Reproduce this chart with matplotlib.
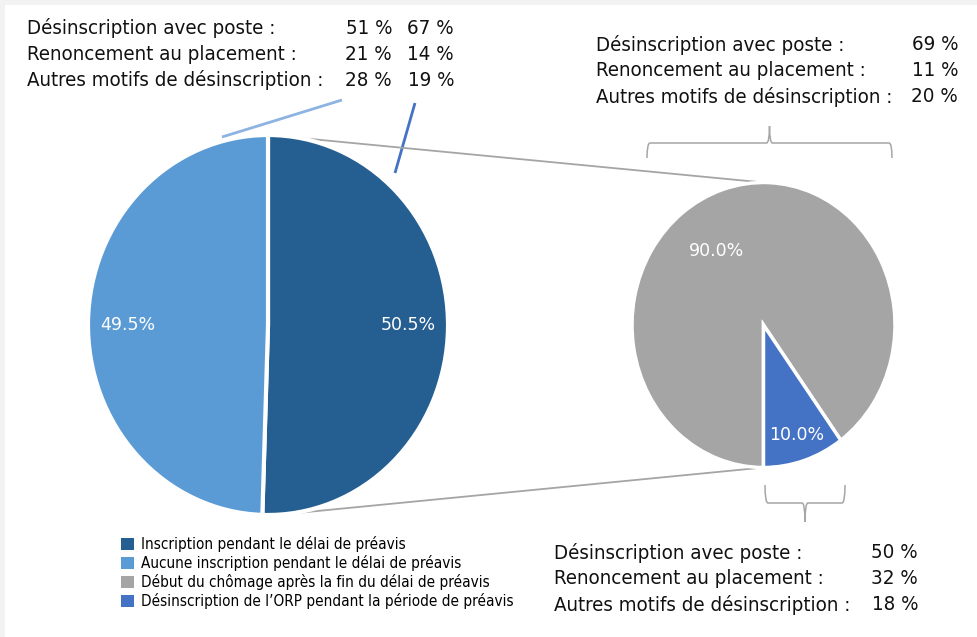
import matplotlib
matplotlib.use("Agg")
import matplotlib.pyplot as plt
from matplotlib.patches import ConnectionPatch, Rectangle
from matplotlib.path import Path
from matplotlib.patches import PathPatch
import numpy as np

plt.rcParams['font.family'] = ['DejaVu Sans']

# ---- data ----
main_labels = ["Inscription pendant le délai de préavis",
               "Aucune inscription pendant le délai de préavis"]
main_values = [50.5, 49.5]
sub_labels = ["Début du chômage après la fin du délai de préavis",
              "Désinscription de l\u2019ORP pendant la période de préavis"]
sub_values = [90.0, 10.0]

reason_labels = ["Désinscription avec poste :",
                 "Renoncement au placement :",
                 "Autres motifs de désinscription :"]
reasons_no_reg = [51, 21, 28]      # aucune inscription
reasons_reg = [67, 14, 19]         # inscription pendant le délai
reasons_after = [69, 11, 20]       # début du chômage après la fin
reasons_orp = [50, 32, 18]         # désinscription de l'ORP

main_colors = ["#255e91", "#5b9bd5"]
sub_colors = ["#a5a5a5", "#4472c4"]

W, H = 978, 637
fig = plt.figure(figsize=(W / 100, H / 100), dpi=100, facecolor="white")

# overlay axes in pixel coordinates (y down)
ov = fig.add_axes([0, 0, 1, 1], zorder=0)
ov.set_xlim(0, W)
ov.set_ylim(H, 0)
ov.axis("off")
ov.add_patch(Rectangle((0, 0), W, 5, color="#f2f2f2", lw=0))
ov.add_patch(Rectangle((0, 0), 5, H, color="#f2f2f2", lw=0))


def pie_axes(cx, cy, rx, ry, m=1.1):
    ax = fig.add_axes([(cx - rx * m) / W, (H - cy - ry * m) / H,
                       2 * rx * m / W, 2 * ry * m / H], zorder=2)
    return ax


# left pie
axL = pie_axes(268, 325, 180, 190)
wL, tL = axL.pie(main_values, colors=main_colors, startangle=90,
                 counterclock=False, labeldistance=None,
                 wedgeprops=dict(edgecolor="white", linewidth=3))
for w, v in zip(wL, main_values):
    ang = np.deg2rad((w.theta1 + w.theta2) / 2)
    axL.text(0.78 * np.cos(ang), 0.0, f"{v:.1f}%", color="white",
             fontsize=12.5, ha="center", va="center")
axL.set_aspect("auto")
axL.set_xlim(-1.1, 1.1)
axL.set_ylim(-1.1, 1.1)

# right pie
axR = pie_axes(763.5, 325, 131.5, 142.5)
wR, tR = axR.pie(sub_values, colors=sub_colors, startangle=-54,
                 counterclock=True, labeldistance=None,
                 wedgeprops=dict(edgecolor="white", linewidth=2.5))
axR.set_aspect("auto")
axR.set_xlim(-1.1, 1.1)
axR.set_ylim(-1.1, 1.1)
axR.text(-0.36, 0.52, f"{sub_values[0]:.1f}%", color="white", fontsize=12.5,
         ha="center", va="center")
axR.text(0.25, -0.77, f"{sub_values[1]:.1f}%", color="white", fontsize=12.5,
         ha="center", va="center")

# connectors between pies
for aL, aR in [(80, 90), (-85, -90)]:
    pa = (np.cos(np.deg2rad(aL)), np.sin(np.deg2rad(aL)))
    pb = (np.cos(np.deg2rad(aR)), np.sin(np.deg2rad(aR)))
    cp = ConnectionPatch(xyA=pa, coordsA=axL.transData, xyB=pb,
                         coordsB=axR.transData, color="#a5a5a5", lw=1.3,
                         zorder=1)
    fig.add_artist(cp)

# text blocks
fs = 14.7
lh = 26


def block(x0, y0, vals_cols, right_xs):
    for i, lab in enumerate(reason_labels):
        y = y0 + i * lh
        ov.text(x0, y, lab, fontsize=fs, ha="left", va="center",
                color="#111111", fontstretch="condensed")
        for vals, rx in zip(vals_cols, right_xs):
            ov.text(rx, y, f"{vals[i]} %", fontsize=fs, ha="right",
                    va="center", color="#111111", fontstretch="condensed")


block(27, 28, [reasons_no_reg, reasons_reg], [392, 454])
block(596, 45, [reasons_after], [958])
block(554, 553, [reasons_orp], [918])

# leader lines from left block to pie
for (x1, y1), (x2, y2), c in [((222, 137), (342, 100), "#8db3e2"),
                              ((395, 173), (415, 103), "#4472c4")]:
    ov.plot([x1, x2], [y1, y2], color=c, lw=2, solid_capstyle="butt")


def brace(x0, x1, yb, ym, yt):
    xc = (x0 + x1) / 2
    r = 3
    verts = [(x0, yb), (x0, ym), (x0 + r, ym),
             (xc - r, ym), (xc, ym), (xc, yt),
             (xc, ym), (xc + r, ym),
             (x1 - r, ym), (x1, ym), (x1, yb)]
    codes = [Path.MOVETO, Path.CURVE3, Path.CURVE3,
             Path.LINETO, Path.CURVE3, Path.CURVE3,
             Path.CURVE3, Path.CURVE3,
             Path.LINETO, Path.CURVE3, Path.CURVE3]
    ov.add_patch(PathPatch(Path(verts, codes), fill=False,
                           edgecolor="#a6a6a6", lw=1.1))


brace(647, 892, 158, 143, 126)
brace(765, 845, 485, 503, 522)

# legend
leg = fig.legend(list(wL) + list(wR), main_labels + sub_labels,
                 loc="upper left", bbox_to_anchor=(121 / W, 1 - 536 / H),
                 frameon=False, handlelength=0.85, handleheight=0.85,
                 handletextpad=0.45, labelspacing=0.2, borderpad=0,
                 borderaxespad=0, prop=dict(size=11, stretch="condensed"))
for h in leg.legend_handles:
    h.set_edgecolor("none")

fig.savefig("out.png", dpi=100, facecolor="white")
